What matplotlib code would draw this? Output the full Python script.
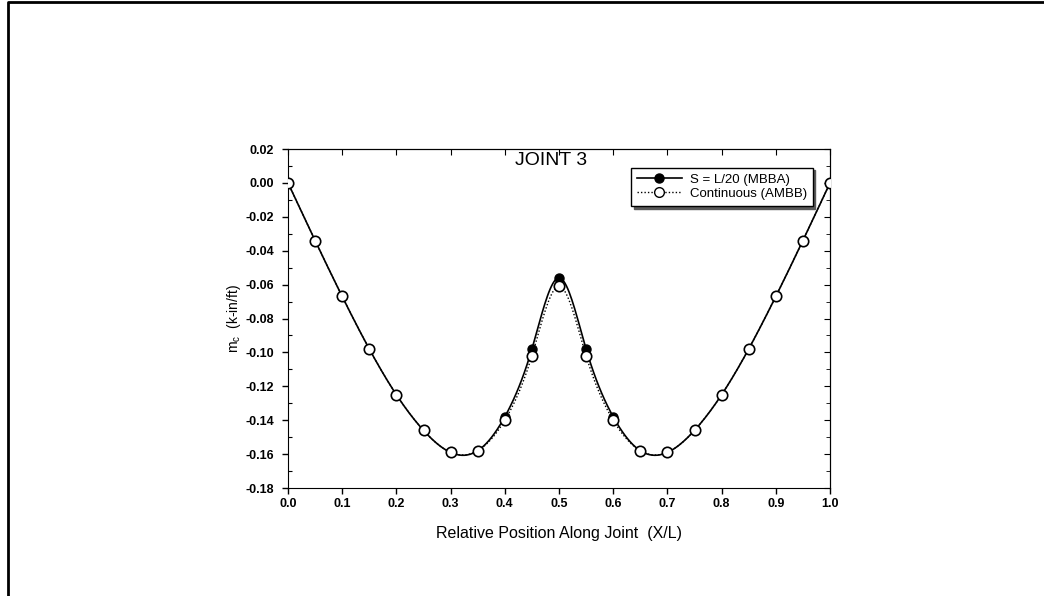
import numpy as np
import matplotlib.pyplot as plt
from matplotlib.lines import Line2D
from matplotlib.ticker import MultipleLocator

plt.rcParams['font.family'] = ['Liberation Sans', 'DejaVu Sans']

# Данные (отсчитаны с графика)
x_pos = [0.00, 0.05, 0.10, 0.15, 0.20, 0.25, 0.30, 0.35, 0.40, 0.45, 0.50,
         0.55, 0.60, 0.65, 0.70, 0.75, 0.80, 0.85, 0.90, 0.95, 1.00]
mc_mbba = [0.000, -0.034, -0.067, -0.098, -0.125, -0.146, -0.159, -0.158,
           -0.138, -0.098, -0.056, -0.098, -0.138, -0.158, -0.159, -0.146,
           -0.125, -0.098, -0.067, -0.034, 0.000]
mc_ambb = [0.000, -0.034, -0.067, -0.098, -0.125, -0.146, -0.159, -0.158,
           -0.140, -0.102, -0.061, -0.102, -0.140, -0.158, -0.159, -0.146,
           -0.125, -0.098, -0.067, -0.034, 0.000]
x_ticks = [0.0, 0.1, 0.2, 0.3, 0.4, 0.5, 0.6, 0.7, 0.8, 0.9, 1.0]
y_ticks = [0.02, 0.00, -0.02, -0.04, -0.06, -0.08, -0.10, -0.12, -0.14, -0.16, -0.18]


def smooth(xs, ys, n=400):
    # натуральный кубический сплайн, только для отрисовки кривой
    xs = np.asarray(xs, float)
    ys = np.asarray(ys, float)
    m = len(xs)
    h = np.diff(xs)
    A = np.zeros((m, m))
    b = np.zeros(m)
    A[0, 0] = A[-1, -1] = 1
    for i in range(1, m - 1):
        A[i, i - 1] = h[i - 1]
        A[i, i] = 2 * (h[i - 1] + h[i])
        A[i, i + 1] = h[i]
        b[i] = 6 * ((ys[i + 1] - ys[i]) / h[i] - (ys[i] - ys[i - 1]) / h[i - 1])
    M = np.linalg.solve(A, b)
    xx = np.linspace(xs[0], xs[-1], n)
    k = np.clip(np.searchsorted(xs, xx) - 1, 0, m - 2)
    t0 = xs[k + 1] - xx
    t1 = xx - xs[k]
    hk = h[k]
    yy = (M[k] * t0**3 + M[k + 1] * t1**3) / (6 * hk) \
        + (ys[k] / hk - M[k] * hk / 6) * t0 + (ys[k + 1] / hk - M[k + 1] * hk / 6) * t1
    return xx, yy


fig = plt.figure(figsize=(10.44, 5.96), dpi=100)
ax = fig.add_axes([288 / 1044, 1 - 488 / 596, (830 - 288) / 1044, (488 - 149) / 596])

xs1, ys1 = smooth(x_pos, mc_mbba)
xs2, ys2 = smooth(x_pos, mc_ambb)
ax.plot(xs1, ys1, color='black', lw=1.2, zorder=2)
ax.plot(xs2, ys2, color='black', lw=1.0, ls=(0, (1, 1.5)), zorder=2)
ax.plot(x_pos, mc_mbba, 'o', color='black', ms=6.5, zorder=3)
ax.plot(x_pos, mc_ambb, 'o', mfc='white', mec='black', mew=1.2, ms=7.5, zorder=4)

# Легенда
h1 = Line2D([], [], marker='o', color='black', ms=6.5, lw=1.2)
h2 = Line2D([], [], marker='o', ls=(0, (1, 1.5)), color='black', mfc='white', mew=1.0, ms=7, lw=1.0)
leg = ax.legend([h1, h2], ['S = L/20 (MBBA)', 'Continuous (AMBB)'],
                loc='upper right', bbox_to_anchor=(0.968, 0.945), fontsize=9.5,
                fancybox=False, shadow={'color': '0.35', 'alpha': 1}, framealpha=1,
                edgecolor='black', handlelength=3.4, handletextpad=0.6,
                borderpad=0.45, labelspacing=0.15, borderaxespad=0)
leg.get_frame().set_linewidth(1.0)

ax.text(0.485, 0.0132, 'JOINT 3', fontsize=14, ha='center', va='center')

ax.set_xlim(0, 1.0)
ax.set_ylim(-0.18, 0.02)
ax.set_xticks(x_ticks)
ax.set_xticklabels(['%.1f' % v for v in x_ticks], fontweight='bold')
ax.set_yticks(y_ticks)
ax.set_yticklabels(['%.2f' % v for v in y_ticks], fontweight='bold')
ax.yaxis.set_minor_locator(MultipleLocator(0.01))
ax.tick_params(which='major', direction='out', length=4, width=1, labelsize=9)
ax.tick_params(axis='x', pad=3)
ax.tick_params(axis='y', pad=6)
ax.tick_params(axis='y', which='minor', direction='in', length=3, width=0.8)

ax2 = ax.secondary_yaxis('right')
ax2.set_yticks(y_ticks)
ax2.yaxis.set_minor_locator(MultipleLocator(0.01))
ax2.tick_params(which='both', direction='in', length=4, labelright=False)
ax2.tick_params(which='minor', length=3)
ax3 = ax.secondary_xaxis('top')
ax3.set_xticks(x_ticks)
ax3.tick_params(direction='in', length=4, labeltop=False)

ax.set_xlabel('Relative Position Along Joint  (X/L)', fontsize=11.5, labelpad=12)
ax.set_ylabel('m$_\\mathregular{c}$  (k-in/ft)', fontsize=10, labelpad=2)

# рамка сверху и слева
fig.add_artist(Line2D([8 / 1044, 8 / 1044, 1.0], [0.0, 1 - 2 / 596, 1 - 2 / 596],
                      transform=fig.transFigure, color='black', lw=2))

fig.savefig('out.png', dpi=100)
